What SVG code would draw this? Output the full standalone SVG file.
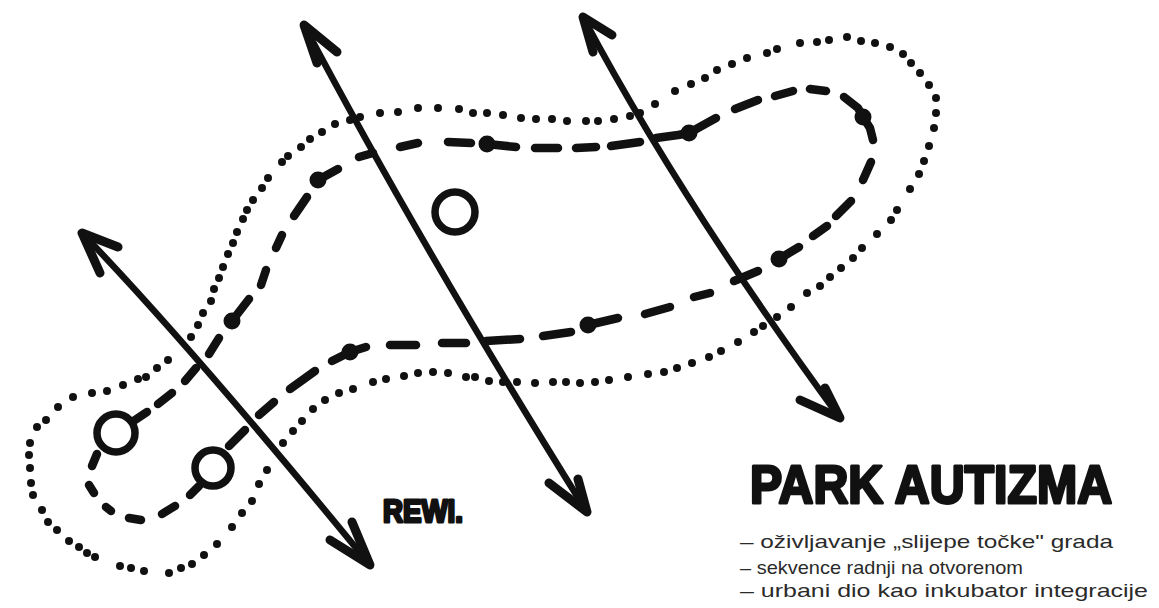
<svg xmlns="http://www.w3.org/2000/svg" width="1159" height="608" viewBox="0 0 1159 608">
<style>
.shaft{fill:none;stroke:#111;stroke-width:6.5;stroke-linecap:round}
.head{fill:none;stroke:#111;stroke-width:9;stroke-linecap:round;stroke-linejoin:round}
.dash{fill:none;stroke:#111;stroke-width:8.5;stroke-linecap:round;stroke-linejoin:round}
.dot{fill:#111}
.od{fill:#111}
.ring{fill:none;stroke:#111;stroke-width:7.5}
.title{font-family:"Liberation Sans",Arial,sans-serif;font-weight:bold;fill:#111;stroke:#111;stroke-width:3;stroke-linejoin:round}
.hand{font-family:"Liberation Sans",Arial,sans-serif;fill:#2a2a2a}
</style>
<rect width="1159" height="608" fill="#fff"/>
<g id="outer-dotted-loop">
<circle class="od" r="4" cx="73" cy="397"/><circle class="od" r="4" cx="92" cy="393"/><circle class="od" r="4" cx="107" cy="391"/><circle class="od" r="4" cx="123" cy="385"/><circle class="od" r="4" cx="138" cy="379"/><circle class="od" r="4" cx="146" cy="377"/><circle class="od" r="4" cx="157" cy="368"/><circle class="od" r="4" cx="168" cy="360"/><circle class="od" r="4" cx="191" cy="337"/><circle class="od" r="4" cx="198" cy="325"/><circle class="od" r="4" cx="203" cy="313"/><circle class="od" r="4" cx="211" cy="301"/><circle class="od" r="4" cx="214" cy="289"/><circle class="od" r="4" cx="219" cy="278"/><circle class="od" r="4" cx="223" cy="267"/><circle class="od" r="4" cx="228" cy="254"/><circle class="od" r="4" cx="233" cy="243"/><circle class="od" r="4" cx="237" cy="232"/><circle class="od" r="4" cx="243" cy="219"/><circle class="od" r="4" cx="247" cy="210"/><circle class="od" r="4" cx="253" cy="200"/><circle class="od" r="4" cx="262" cy="188"/><circle class="od" r="4" cx="268" cy="178"/><circle class="od" r="4" cx="282" cy="162"/><circle class="od" r="4" cx="288" cy="156"/><circle class="od" r="4" cx="301" cy="147"/><circle class="od" r="4" cx="310" cy="139"/><circle class="od" r="4" cx="322" cy="132"/><circle class="od" r="4" cx="335" cy="124"/><circle class="od" r="4" cx="350" cy="120"/><circle class="od" r="4" cx="360" cy="117"/><circle class="od" r="4" cx="380" cy="113"/><circle class="od" r="4" cx="398" cy="112"/><circle class="od" r="4" cx="418" cy="108"/><circle class="od" r="4" cx="438" cy="108"/><circle class="od" r="4" cx="459" cy="109"/><circle class="od" r="4" cx="473" cy="113"/><circle class="od" r="4" cx="487" cy="113"/><circle class="od" r="4" cx="503" cy="115"/><circle class="od" r="4" cx="521" cy="118"/><circle class="od" r="4" cx="536" cy="119"/><circle class="od" r="4" cx="552" cy="119"/><circle class="od" r="4" cx="567" cy="121"/><circle class="od" r="4" cx="586" cy="121"/><circle class="od" r="4" cx="598" cy="121"/><circle class="od" r="4" cx="614" cy="119"/><circle class="od" r="4" cx="630" cy="116"/><circle class="od" r="4" cx="640" cy="113"/><circle class="od" r="4" cx="655" cy="104"/><circle class="od" r="4" cx="675" cy="91"/><circle class="od" r="4" cx="691" cy="84"/><circle class="od" r="4" cx="705" cy="78"/><circle class="od" r="4" cx="717" cy="70"/><circle class="od" r="4" cx="732" cy="64"/><circle class="od" r="4" cx="747" cy="58"/><circle class="od" r="4" cx="767" cy="53"/><circle class="od" r="4" cx="777" cy="49"/><circle class="od" r="4" cx="800" cy="43"/><circle class="od" r="4" cx="817" cy="42"/><circle class="od" r="4" cx="829" cy="40"/><circle class="od" r="4" cx="847" cy="37"/><circle class="od" r="4" cx="861" cy="41"/><circle class="od" r="4" cx="875" cy="43"/><circle class="od" r="4" cx="890" cy="47"/><circle class="od" r="4" cx="903" cy="54"/><circle class="od" r="4" cx="911" cy="63"/><circle class="od" r="4" cx="920" cy="73"/><circle class="od" r="4" cx="929" cy="85"/><circle class="od" r="4" cx="936" cy="98"/><circle class="od" r="4" cx="936" cy="113"/><circle class="od" r="4" cx="934" cy="128"/><circle class="od" r="4" cx="929" cy="146"/><circle class="od" r="4" cx="924" cy="161"/><circle class="od" r="4" cx="919" cy="174"/><circle class="od" r="4" cx="910" cy="189"/><circle class="od" r="4" cx="897" cy="210"/><circle class="od" r="4" cx="891" cy="220"/><circle class="od" r="4" cx="877" cy="234"/><circle class="od" r="4" cx="862" cy="248"/><circle class="od" r="4" cx="853" cy="258"/><circle class="od" r="4" cx="841" cy="268"/><circle class="od" r="4" cx="830" cy="277"/><circle class="od" r="4" cx="820" cy="286"/><circle class="od" r="4" cx="807" cy="293"/><circle class="od" r="4" cx="791" cy="307"/><circle class="od" r="4" cx="777" cy="317"/><circle class="od" r="4" cx="763" cy="326"/><circle class="od" r="4" cx="754" cy="332"/><circle class="od" r="4" cx="738" cy="342"/><circle class="od" r="4" cx="721" cy="351"/><circle class="od" r="4" cx="709" cy="357"/><circle class="od" r="4" cx="692" cy="363"/><circle class="od" r="4" cx="677" cy="368"/><circle class="od" r="4" cx="664" cy="372"/><circle class="od" r="4" cx="648" cy="374"/><circle class="od" r="4" cx="628" cy="377"/><circle class="od" r="4" cx="609" cy="380"/><circle class="od" r="4" cx="595" cy="382"/><circle class="od" r="4" cx="580" cy="383"/><circle class="od" r="4" cx="566" cy="382"/><circle class="od" r="4" cx="553" cy="382"/><circle class="od" r="4" cx="535" cy="383"/><circle class="od" r="4" cx="517" cy="382"/><circle class="od" r="4" cx="503" cy="382"/><circle class="od" r="4" cx="489" cy="381"/><circle class="od" r="4" cx="475" cy="377"/><circle class="od" r="4" cx="466" cy="377"/><circle class="od" r="4" cx="448" cy="373"/><circle class="od" r="4" cx="433" cy="372"/><circle class="od" r="4" cx="418" cy="373"/><circle class="od" r="4" cx="404" cy="376"/><circle class="od" r="4" cx="386" cy="379"/><circle class="od" r="4" cx="373" cy="382"/><circle class="od" r="4" cx="353" cy="389"/><circle class="od" r="4" cx="339" cy="393"/><circle class="od" r="4" cx="325" cy="400"/><circle class="od" r="4" cx="313" cy="409"/><circle class="od" r="4" cx="302" cy="421"/><circle class="od" r="4" cx="293" cy="431"/><circle class="od" r="4" cx="283" cy="443"/><circle class="od" r="4" cx="267" cy="470"/><circle class="od" r="4" cx="259" cy="484"/><circle class="od" r="4" cx="252" cy="501"/><circle class="od" r="4" cx="242" cy="513"/><circle class="od" r="4" cx="232" cy="527"/><circle class="od" r="4" cx="217" cy="544"/><circle class="od" r="4" cx="204" cy="555"/><circle class="od" r="4" cx="192" cy="564"/><circle class="od" r="4" cx="181" cy="568"/><circle class="od" r="4" cx="169" cy="573"/><circle class="od" r="4" cx="144" cy="571"/><circle class="od" r="4" cx="131" cy="568"/><circle class="od" r="4" cx="120" cy="566"/><circle class="od" r="4" cx="95" cy="557"/><circle class="od" r="4" cx="87" cy="553"/><circle class="od" r="4" cx="79" cy="547"/><circle class="od" r="4" cx="69" cy="541"/><circle class="od" r="4" cx="57" cy="530"/><circle class="od" r="4" cx="48" cy="522"/><circle class="od" r="4" cx="42" cy="510"/><circle class="od" r="4" cx="33" cy="495"/><circle class="od" r="4" cx="31" cy="483"/><circle class="od" r="4" cx="30" cy="468"/><circle class="od" r="4" cx="29" cy="455"/><circle class="od" r="4" cx="30" cy="443"/><circle class="od" r="4" cx="37" cy="427"/><circle class="od" r="4" cx="46" cy="420"/><circle class="od" r="4" cx="58" cy="407"/>
</g>
<g id="dashed-path">
<path class="dash" d="M135,420 L147,412"/>
<path class="dash" d="M158,404 L172,393"/>
<path class="dash" d="M185,381 L196,368"/>
<path class="dash" d="M209,354 L219,338"/>
<path class="dash" d="M232,321 L249,299"/>
<path class="dash" d="M261,285 L266,270"/>
<path class="dash" d="M276,248 L282,235"/>
<path class="dash" d="M294,216 L307,197"/>
<path class="dash" d="M318,180 L338,169"/>
<path class="dash" d="M359,157 L373,153"/>
<path class="dash" d="M400,147 L418,143"/>
<path class="dash" d="M448,142 L471,143"/>
<path class="dash" d="M487,144 L516,147"/>
<path class="dash" d="M535,148 L558,148"/>
<path class="dash" d="M576,148 L596,147"/>
<path class="dash" d="M611,146 L640,142"/>
<path class="dash" d="M656,138 L678,135 L689,133 L716,118"/>
<path class="dash" d="M735,109 L758,100"/>
<path class="dash" d="M775,96 L793,91"/>
<path class="dash" d="M810,89 L826,91"/>
<path class="dash" d="M844,97 L858,108 L863,117 L870,128 L873,140"/>
<path class="dash" d="M871,162 L863,180"/>
<path class="dash" d="M851,201 L836,216"/>
<path class="dash" d="M827,226 L813,236"/>
<path class="dash" d="M799,247 L779,259"/>
<path class="dash" d="M758,271 L734,281"/>
<path class="dash" d="M710,293 L694,297"/>
<path class="dash" d="M670,307 L645,314"/>
<path class="dash" d="M618,318 L588,325"/>
<path class="dash" d="M571,332 L543,336"/>
<path class="dash" d="M520,339 L486,341"/>
<path class="dash" d="M466,343 L442,343"/>
<path class="dash" d="M416,345 L390,345"/>
<path class="dash" d="M366,347 L350,352 L332,361"/>
<path class="dash" d="M315,371 L290,389"/>
<path class="dash" d="M274,402 L259,415"/>
<path class="dash" d="M245,430 L229,446"/>
<path class="dash" d="M199,486 L190,495"/>
<path class="dash" d="M175,506 L162,514"/>
<path class="dash" d="M141,520 L129,518"/>
<path class="dash" d="M111,511 L106,507"/>
<path class="dash" d="M94,493 L89,485"/>
<path class="dash" d="M92,466 L97,454"/>
</g>
<g id="stops">
<circle class="dot" cx="232" cy="321" r="8.5"/>
<circle class="dot" cx="318" cy="180" r="8.5"/>
<circle class="dot" cx="487" cy="144" r="8.5"/>
<circle class="dot" cx="689" cy="133" r="8.5"/>
<circle class="dot" cx="863" cy="117" r="8.5"/>
<circle class="dot" cx="779" cy="259" r="8.5"/>
<circle class="dot" cx="588" cy="325" r="8.5"/>
<circle class="dot" cx="350" cy="352" r="8.5"/>
</g>
<g id="node-circle-1"><circle class="ring" cx="116" cy="433" r="19"/></g>
<g id="node-circle-2"><circle class="ring" cx="213" cy="468" r="18"/></g>
<g id="node-circle-3"><circle class="ring" cx="455" cy="212" r="20"/></g>
<g id="connectors">
<path class="shaft" d="M82,233 Q190,345 370,565"/>
<path class="head" d="M118,247 L82,233 L100,273"/>
<path class="head" d="M330,540 L370,565 L352,522"/>
<path class="shaft" d="M304,25 Q420,245 587,512"/>
<path class="head" d="M337,52 L304,25 L317,63"/>
<path class="head" d="M549,483 L587,512 L578,479"/>
<path class="shaft" d="M583,17 Q680,200 840,418"/>
<path class="head" d="M612,35 L583,17 L593,52"/>
<path class="head" d="M800,400 L840,418 L825,388"/>
</g>
<g id="label-rewi"><text class="title" x="383" y="522" font-size="32" stroke-width="2" textLength="80" lengthAdjust="spacingAndGlyphs">REWI.</text></g>
<g id="legend">
<text class="title" x="750" y="503" font-size="54" textLength="362" lengthAdjust="spacingAndGlyphs">PARK AUTIZMA</text>
<text class="hand" x="740" y="548" font-size="19" textLength="373" lengthAdjust="spacingAndGlyphs">–  oživljavanje „slijepe točke" grada</text>
<text class="hand" x="740" y="574" font-size="19" textLength="283" lengthAdjust="spacingAndGlyphs">–  sekvence radnji na otvorenom</text>
<text class="hand" x="740" y="597" font-size="19" textLength="408" lengthAdjust="spacingAndGlyphs">–  urbani dio kao inkubator integracije</text>
</g>
</svg>
